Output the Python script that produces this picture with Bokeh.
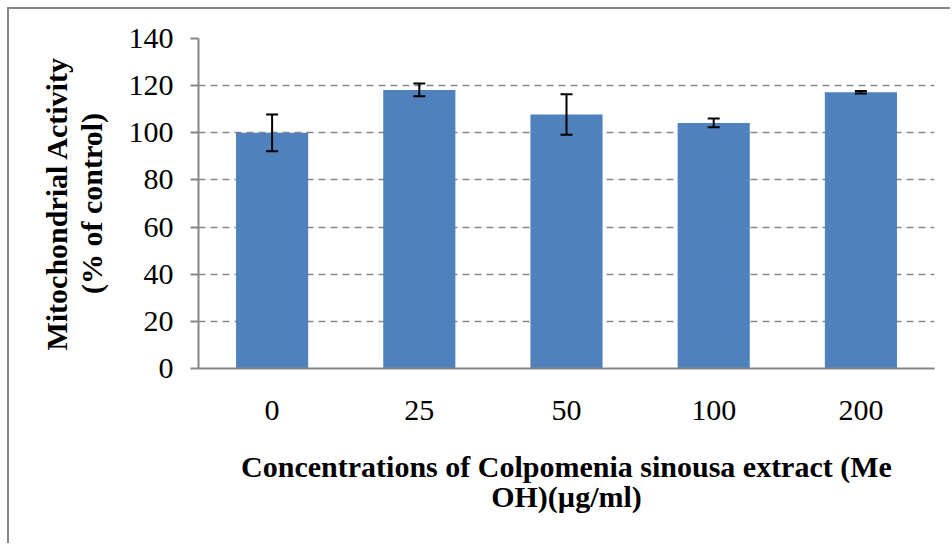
from bokeh.plotting import figure
from bokeh.models import FactorRange, Range1d, Whisker, TeeHead, ColumnDataSource, FixedTicker, Title
from bokeh.embed import file_html
from bokeh.resources import INLINE

categories = ["0", "25", "50", "100", "200"]
values = [100.0, 118.2, 107.8, 104.2, 117.2]
errors = [7.8, 2.7, 8.6, 1.9, 0.5]
y_ticks = [0, 20, 40, 60, 80, 100, 120, 140]

upper = [v + e for v, e in zip(values, errors)]
lower = [v - e for v, e in zip(values, errors)]
src = ColumnDataSource(dict(cat=categories, val=values, upper=upper, lower=lower))

FONT = "Liberation Serif"
GRAY = "#868686"
OFF = 9  # outer border offset (7px margin + 2px border)

p = figure(width=952 - OFF, height=545 - OFF, x_range=FactorRange(*categories, range_padding=0),
           y_range=Range1d(0, 140), output_backend="svg", toolbar_location=None,
           min_border_left=198 - OFF, min_border_right=18, min_border_top=38 - OFF, min_border_bottom=177,
           margin=(7, 0, 0, 7),
           styles={"border-left": "2px solid #868686", "border-top": "2px solid #868686"})
p.outline_line_color = None
p.background_fill_color = "white"
p.border_fill_color = "white"

p.vbar(x="cat", top="val", width=0.49, source=src, fill_color="#4F81BD", line_color=None)

w = Whisker(base="cat", upper="upper", lower="lower", source=src, line_color="black", line_width=2,
            level="overlay",
            upper_head=TeeHead(size=12, line_color="black", line_width=2),
            lower_head=TeeHead(size=12, line_color="black", line_width=2))
p.add_layout(w)

p.xgrid.grid_line_color = None
p.ygrid.grid_line_color = GRAY
p.ygrid.grid_line_dash = "7 5"
p.ygrid.grid_line_width = 1.5
p.ygrid.ticker = FixedTicker(ticks=y_ticks)

ya = p.yaxis[0]
ya.ticker = FixedTicker(ticks=y_ticks)
ya.axis_line_color = GRAY
ya.axis_line_width = 2
ya.major_tick_line_color = GRAY
ya.major_tick_line_width = 2
ya.major_tick_out = 8
ya.major_tick_in = 0
ya.minor_tick_line_color = None
ya.major_label_text_font = FONT
ya.major_label_text_font_size = "30px"
ya.major_label_text_color = "black"
ya.major_label_standoff = 17
ya.axis_label = "(% of control)"
ya.axis_label_text_font = FONT
ya.axis_label_text_font_style = "bold"
ya.axis_label_text_font_size = "30px"
ya.axis_label_text_color = "black"
ya.axis_label_standoff = 18

p.add_layout(Title(text="Mitochondrial Activity", align="center", text_font=FONT,
                   text_font_style="bold", text_font_size="30px", text_color="black",
                   standoff=-3), "left")

xa = p.xaxis[0]
xa.axis_line_color = GRAY
xa.axis_line_width = 2
xa.major_tick_line_color = None
xa.minor_tick_line_color = None
xa.major_label_text_font = FONT
xa.major_label_text_font_size = "30px"
xa.major_label_text_color = "black"
xa.major_label_standoff = 26
xa.axis_label = "Concentrations of Colpomenia sinousa extract (Me\nOH)(\u00b5g/ml)"
xa.axis_label_text_font = FONT
xa.axis_label_text_font_style = "bold"
xa.axis_label_text_font_size = "30px"
xa.axis_label_text_color = "black"
xa.axis_label_text_line_height = 0.93
xa.axis_label_standoff = 27

open("out.html", "w").write(file_html(p, INLINE))
